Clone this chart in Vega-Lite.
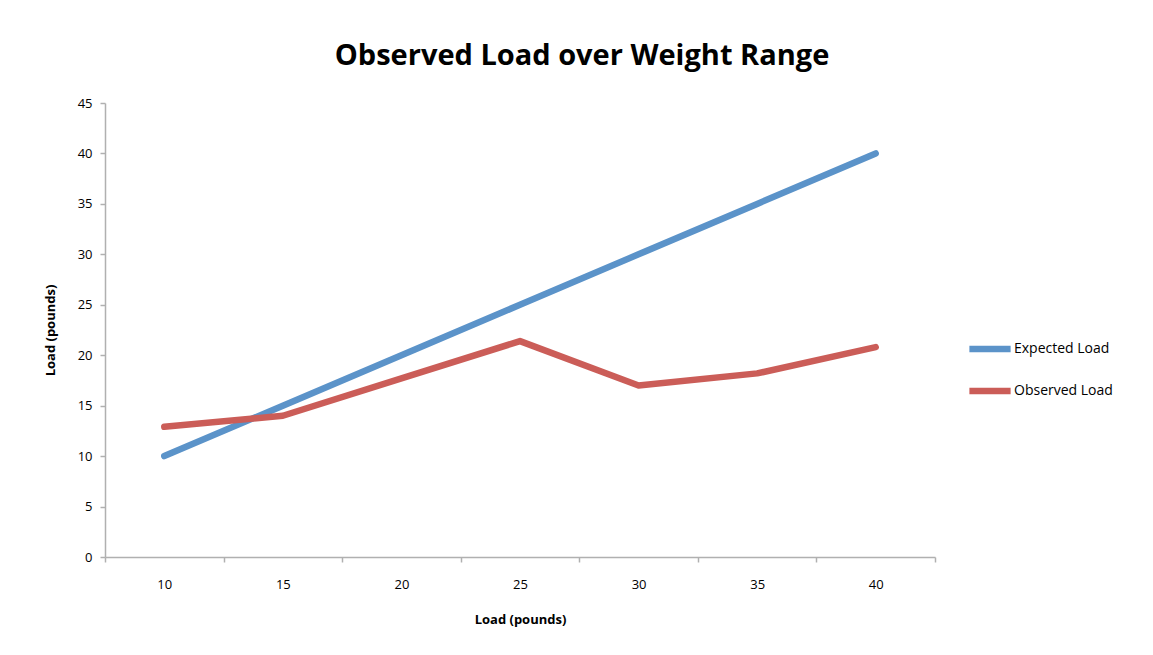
{
  "$schema": "https://vega.github.io/schema/vega-lite/v6.json",
  "autosize": {"type": "none"},
  "width": 830,
  "height": 454,
  "padding": {"left": 105, "top": 103, "right": 218, "bottom": 98},
  "background": "white",
  "title": {
    "text": "Observed Load over Weight Range",
    "font": "Open Sans",
    "fontSize": 29,
    "fontWeight": "bold",
    "color": "#000000",
    "anchor": "middle",
    "frame": "group",
    "dx": 62,
    "offset": 26
  },
  "data": {
    "values": [
      {"load": 10, "series": "Expected Load", "value": 10},
      {"load": 15, "series": "Expected Load", "value": 15},
      {"load": 20, "series": "Expected Load", "value": 20},
      {"load": 25, "series": "Expected Load", "value": 25},
      {"load": 30, "series": "Expected Load", "value": 30},
      {"load": 35, "series": "Expected Load", "value": 35},
      {"load": 40, "series": "Expected Load", "value": 40},
      {"load": 10, "series": "Observed Load", "value": 12.9},
      {"load": 15, "series": "Observed Load", "value": 14.0},
      {"load": 20, "series": "Observed Load", "value": 17.7},
      {"load": 25, "series": "Observed Load", "value": 21.4},
      {"load": 30, "series": "Observed Load", "value": 17.0},
      {"load": 35, "series": "Observed Load", "value": 18.2},
      {"load": 40, "series": "Observed Load", "value": 20.8}
    ]
  },
  "mark": {"type": "line", "strokeWidth": 6.5, "strokeCap": "round", "strokeJoin": "round"},
  "encoding": {
    "x": {
      "field": "load",
      "type": "ordinal",
      "scale": {"type": "band", "paddingInner": 0, "paddingOuter": 0},
      "axis": {
        "title": "Load (pounds)",
        "titleFont": "Open Sans",
        "titleFontSize": 13,
        "titleFontWeight": "bold",
        "titleColor": "#000000",
        "titlePadding": 22,
        "labelAngle": 0,
        "labelFont": "Open Sans",
        "labelFontSize": 13,
        "labelColor": "#000000",
        "labelPadding": 16,
        "tickBand": "extent",
        "tickSize": 5,
        "tickColor": "#b0b0b0",
        "tickWidth": 1.5,
        "domainColor": "#b0b0b0",
        "domainWidth": 1.5,
        "grid": false
      }
    },
    "y": {
      "field": "value",
      "type": "quantitative",
      "scale": {"domain": [0, 45], "nice": false},
      "axis": {
        "values": [0, 5, 10, 15, 20, 25, 30, 35, 40, 45],
        "title": "Load (pounds)",
        "titleFont": "Open Sans",
        "titleFontSize": 13,
        "titleFontWeight": "bold",
        "titleColor": "#000000",
        "titlePadding": 20,
        "labelFont": "Open Sans",
        "labelFontSize": 13,
        "labelColor": "#000000",
        "labelPadding": 8,
        "tickSize": 5,
        "tickColor": "#b0b0b0",
        "tickWidth": 1.5,
        "domainColor": "#b0b0b0",
        "domainWidth": 1.5,
        "grid": false
      }
    },
    "color": {
      "field": "series",
      "type": "nominal",
      "scale": {"domain": ["Expected Load", "Observed Load"], "range": ["#5b93c9", "#cb5d58"]},
      "legend": {
        "title": null,
        "orient": "none",
        "legendX": 861,
        "legendY": 222,
        "symbolType": "stroke",
        "symbolSize": 1700,
        "symbolStrokeWidth": 6.5,
        "labelFont": "Open Sans",
        "labelFontSize": 14,
        "labelColor": "#000000",
        "labelOffset": 0,
        "rowPadding": 5
      }
    }
  },
  "config": {"view": {"stroke": null}}
}
